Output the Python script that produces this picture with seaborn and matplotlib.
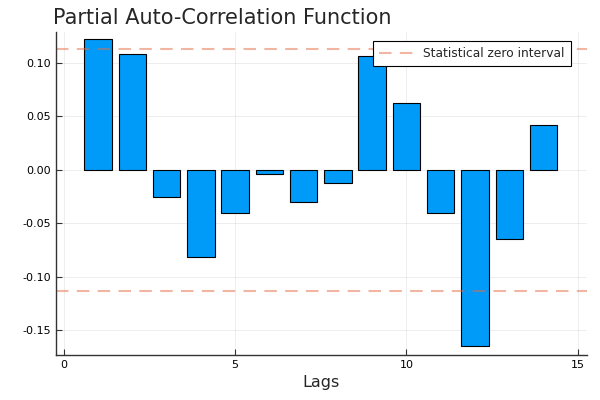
import matplotlib

matplotlib.use("Agg")
import matplotlib.pyplot as plt
import pandas as pd
import seaborn as sns

lags = [1, 2, 3, 4, 5, 6, 7, 8, 9, 10, 11, 12, 13, 14]
pacf = [0.122, 0.108, -0.025, -0.081, -0.040, -0.004, -0.030, -0.012,
        0.107, 0.063, -0.040, -0.165, -0.065, 0.042]
zero_bound = 0.113

df = pd.DataFrame({"lag": lags, "pacf": pacf})

sns.set_style("white")
plt.rcParams["font.family"] = ["DejaVu Sans"]

fig = plt.figure(figsize=(6, 4), dpi=100)
ax = fig.add_axes([0.093, 0.1125, 0.885, 0.8075])

sns.barplot(data=df, x="lag", y="pacf", native_scale=True, color="#009AF9",
            saturation=1, width=0.8, edgecolor="black", linewidth=0.8, ax=ax)

ax.axhline(zero_bound, color="#E26F46", alpha=0.5, linestyle=(0, (6, 4)), linewidth=1.5,
           label="Statistical zero interval")
ax.axhline(-zero_bound, color="#E26F46", alpha=0.5, linestyle=(0, (6, 4)), linewidth=1.5)

ax.set_xlim(-0.23, 15.26)
ax.set_ylim(-0.173, 0.129)
ax.set_xticks([0, 5, 10, 15])
ax.set_yticks([-0.15, -0.10, -0.05, 0.00, 0.05, 0.10])
ax.set_yticklabels(["-0.15", "-0.10", "-0.05", "0.00", "0.05", "0.10"])
ax.grid(True, color="black", alpha=0.08, linewidth=0.6)
ax.set_axisbelow(True)

for side in ["top", "right"]:
    ax.spines[side].set_visible(False)
for side in ["left", "bottom"]:
    ax.spines[side].set_color("#333333")
    ax.spines[side].set_linewidth(1.0)
ax.tick_params(direction="in", length=4, width=0.8, labelsize=8, colors="#333333",
               labelcolor="black", left=True, bottom=True)

ax.set_xlabel("Lags", fontsize=11.5)
ax.set_ylabel("")
ax.set_title("Partial Auto-Correlation Function", loc="left", fontsize=15, x=-0.005, pad=6)

leg = ax.legend(loc="upper right", bbox_to_anchor=(0.97, 0.972), borderaxespad=0,
                fontsize=8.8, frameon=True, framealpha=1, fancybox=False,
                borderpad=0.5, handlelength=2.8)
leg.get_frame().set_edgecolor("black")
leg.get_frame().set_linewidth(0.8)

fig.savefig("out.png", dpi=100)
plt.close(fig)
